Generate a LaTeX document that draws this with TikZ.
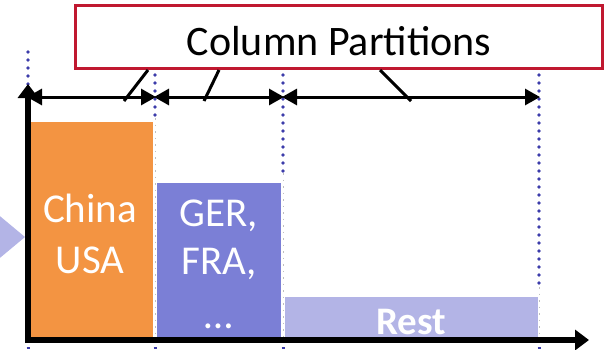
\documentclass[tikz,border=0pt]{standalone}
\usepackage{fontspec}
\setmainfont{Carlito}
\usetikzlibrary{arrows.meta}
\definecolor{barorange}{RGB}{243,148,66}
\definecolor{barblue}{RGB}{123,127,214}
\definecolor{barlight}{RGB}{179,180,230}
\definecolor{boxred}{RGB}{192,24,48}
\definecolor{dotblue}{RGB}{60,60,170}
\tikzset{
  bar/.style={draw=none, inner sep=0pt, anchor=south west},
  bartext/.style={text=white, anchor=base, inner sep=0pt, font=\fontsize{41}{48}\selectfont},
  bluedots/.style={dotblue, line width=3.6pt, line cap=round, dash pattern=on 0pt off 8pt},
  graydots/.style={black!25, line width=0.8pt, dash pattern=on 1.5pt off 5pt},
  axis/.style={line width=6pt, -{Triangle[length=14pt,width=20pt]}},
  dimarrow/.style={line width=3pt, {Triangle[length=15pt,width=16pt]}-{Triangle[length=15pt,width=16pt]}, shorten <=-1pt, shorten >=-1pt},
  callout/.style={line width=3pt},
  titlebox/.style={draw=boxred, line width=3pt, fill=white, inner sep=0pt, minimum width=527pt, minimum height=63pt}
}
\begin{document}
\begin{tikzpicture}[x=1pt,y=-1pt]
\useasboundingbox (0,0) rectangle (605,349);
\clip (0,0) rectangle (605,349);
% left triangle
\fill[barlight] (-5,212) -- (25,237) -- (-5,262) -- cycle;
% dotted guides
\draw[bluedots] (28,52) -- (28,90);
\draw[bluedots] (155,75) -- (155,118);
\draw[bluedots] (283,75) -- (283,173);
\draw[bluedots] (539,75) -- (539,287);
\draw[graydots] (155,118) -- (155,338);
\draw[graydots] (283,173) -- (283,338);
\draw[graydots] (539,287) -- (539,338);
\foreach \x in {28,155,283,539} \draw[dotblue, line width=1.5pt] (\x-1.5,348) -- (\x+1.5,348);
% bars
\node[bar, fill=barorange, minimum width=123pt, minimum height=216pt] (b1) at (30,338) {};
\node[bar, fill=barblue, minimum width=124pt, minimum height=155pt] (b2) at (157,338) {};
\node[bar, fill=barlight, minimum width=253pt, minimum height=41pt] (b3) at (285,338) {};
% bar texts
\node[bartext] (t1a) at (90,222) {China};
\node[bartext] (t1b) at (90,273) {USA};
\node[bartext] (t2a) at (219,226) {GER,};
\node[bartext] (t2b) at (219,274) {FRA,};
\node[bartext] (t2c) at (219,328) {\dots};
\node[bartext, font=\fontsize{39}{46}\selectfont\bfseries] (t3) at (411,334) {Rest};
% axes
\coordinate (o) at (28,340);
\coordinate (ytop) at (28,84);
\coordinate (xend) at (589,340);
\draw[axis] (28,343) -- (ytop);
\draw[axis] (25,340) -- (xend);
% dimension arrows
\coordinate (p0) at (28,97);
\coordinate (p1) at (155,97);
\coordinate (p2) at (283,97);
\coordinate (p3) at (539,97);
\draw[dimarrow] (p0) -- (p1);
\draw[dimarrow] (p1) -- (p2);
\draw[dimarrow] (p2) -- (p3);
% title box
\node[titlebox] (title) at (339,37) {};
\node[anchor=base, inner sep=0pt, font=\fontsize{42}{50}\selectfont] (ttext) at (339,55) {Column Partitions};
% callouts
\coordinate (c1) at (124,101);
\coordinate (c2) at (204,101);
\coordinate (c3) at (411,101);
\draw[callout] (title.south -| 148,0) -- (c1);
\draw[callout] (title.south -| 219,0) -- (c2);
\draw[callout] (title.south -| 380,0) -- (c3);
\end{tikzpicture}
\end{document}
